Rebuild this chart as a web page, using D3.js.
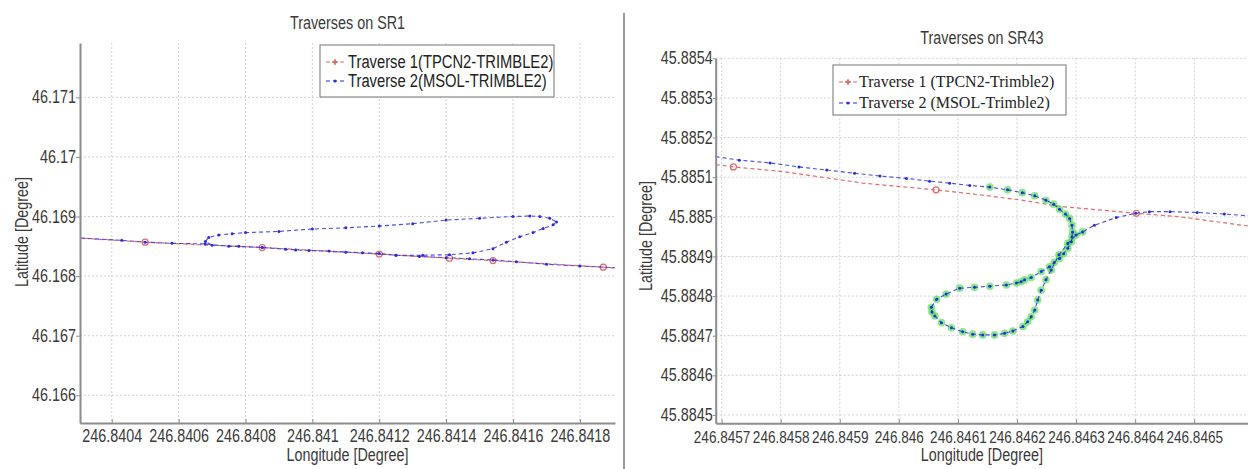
<!DOCTYPE html>
<html><head><meta charset="utf-8">
<script src="https://cdn.jsdelivr.net/npm/d3@7"></script>
<style>
body{margin:0;background:#fff;}
svg{display:block;}
.tick text{font-family:"Liberation Sans",Arial,sans-serif;font-size:17.5px;fill:#3a3a3a;}
.lbl{font-family:"Liberation Sans",Arial,sans-serif;font-size:17.5px;fill:#3a3a3a;}
</style></head><body>
<svg id="chart" width="1248" height="469"></svg>
<script>
// ---------- SR1 panel data ----------
const sr1Title = "Traverses on SR1";
const sr1XTicks = [246.8404, 246.8406, 246.8408, 246.8410, 246.8412, 246.8414, 246.8416, 246.8418];
const sr1XTickLabels = ["246.8404","246.8406","246.8408","246.841","246.8412","246.8414","246.8416","246.8418"];
const sr1YTicks = [46.166, 46.167, 46.168, 46.169, 46.170, 46.171];
const sr1YTickLabels = ["46.166","46.167","46.168","46.169","46.17","46.171"];
const sr1Legend = ["Traverse 1(TPCN2-TRIMBLE2)", "Traverse 2(MSOL-TRIMBLE2)"];
const sr1RedLon = [246.84030, 246.84050, 246.84085, 246.84120, 246.84141, 246.84154, 246.84187, 246.84192];
const sr1RedLat = [46.16864, 46.16857, 46.16848, 46.16837, 46.16830, 46.16826, 46.16815, 46.16813];
const sr1BlueLon = [246.84191, 246.84180, 246.84170, 246.84161, 246.84154, 246.84147, 246.84140, 246.84132, 246.84125, 246.84120,
  246.84110, 246.84099, 246.84092, 246.84085, 246.84078, 246.84070, 246.84068, 246.84069, 246.84072, 246.84076,
  246.84080, 246.84090, 246.84100, 246.84110, 246.84120, 246.84130, 246.84140, 246.84150, 246.84160, 246.84165,
  246.84168, 246.84171, 246.84173, 246.84172, 246.84169, 246.84166, 246.84162, 246.84158, 246.84154, 246.84148,
  246.84141, 246.84133, 246.84125, 246.84115, 246.84105, 246.84095, 246.84085, 246.84075, 246.84068, 246.84058,
  246.84050, 246.84043, 246.84030];
const sr1BlueLat = [46.16814, 46.16817, 46.16820, 46.16824, 46.16827, 46.16829, 46.16831, 46.16833, 46.16835, 46.16838,
  46.16840, 46.16843, 46.16845, 46.16848, 46.16850, 46.16852, 46.16858, 46.16865, 46.16869, 46.16871,
  46.16873, 46.16875, 46.16879, 46.16881, 46.16884, 46.16888, 46.16894, 46.16897, 46.16900, 46.16901,
  46.16900, 46.16897, 46.16891, 46.16886, 46.16880, 46.16873, 46.16866, 46.16857, 46.16846, 46.16839,
  46.16836, 46.16835, 46.16835, 46.16839, 46.16842, 46.16844, 46.16848, 46.16850, 46.16854, 46.16855,
  46.16857, 46.16860, 46.16864];

// ---------- SR43 panel data ----------
const sr43Title = "Traverses on SR43";
const sr43XTicks = [246.8457, 246.8458, 246.8459, 246.8460, 246.8461, 246.8462, 246.8463, 246.8464, 246.8465];
const sr43XTickLabels = ["246.8457","246.8458","246.8459","246.846","246.8461","246.8462","246.8463","246.8464","246.8465"];
const sr43YTicks = [45.8845, 45.8846, 45.8847, 45.8848, 45.8849, 45.8850, 45.8851, 45.8852, 45.8853, 45.8854];
const sr43YTickLabels = ["45.8845","45.8846","45.8847","45.8848","45.8849","45.885","45.8851","45.8852","45.8853","45.8854"];
const sr43Legend = ["Traverse 1 (TPCN2-Trimble2)", "Traverse 2 (MSOL-Trimble2)"];
const sr43RedLon = [246.845690, 246.845720, 246.845804, 246.845939, 246.846063, 246.846140, 246.846208, 246.846275, 246.846342, 246.846402, 246.846476, 246.846595];
const sr43RedLat = [45.885132, 45.885126, 45.885114, 45.885085, 45.885068, 45.885055, 45.885042, 45.885026, 45.885017, 45.885009, 45.885000, 45.884976];
const sr43RedMarked = [1, 4, 9];
const sr43BlueLon = [246.845690, 246.845730, 246.845782, 246.845831, 246.845878, 246.845925, 246.845968, 246.846013, 246.846052, 246.846086,
  246.846120, 246.846154, 246.846184, 246.846209, 246.846230, 246.846249, 246.846262, 246.846272, 246.846282, 246.846289,
  246.846293, 246.846294, 246.846293, 246.846292, 246.846286, 246.846279, 246.846272, 246.846263, 246.846255, 246.846241,
  246.846224, 246.846213, 246.846207, 246.846199, 246.846182, 246.846154, 246.846128, 246.846103, 246.846080, 246.846064,
  246.846055, 246.846056, 246.846061, 246.846072, 246.846089, 246.846108, 246.846125, 246.846142, 246.846162, 246.846179,
  246.846193, 246.846210, 246.846218, 246.846224, 246.846230, 246.846235, 246.846241, 246.846249, 246.846258, 246.846271,
  246.846286, 246.846300, 246.846311, 246.846331, 246.846368, 246.846401, 246.846424, 246.846459, 246.846505, 246.846551,
  246.846595];
const sr43BlueLat = [45.885152, 45.885143, 45.885136, 45.885126, 45.885118, 45.885110, 45.885103, 45.885097, 45.885090, 45.885085,
  45.885079, 45.885075, 45.885068, 45.885061, 45.885053, 45.885042, 45.885032, 45.885019, 45.885007, 45.884996,
  45.884979, 45.884962, 45.884949, 45.884937, 45.884921, 45.884907, 45.884895, 45.884885, 45.884874, 45.884862,
  45.884847, 45.884841, 45.884836, 45.884833, 45.884828, 45.884825, 45.884822, 45.884820, 45.884805, 45.884792,
  45.884772, 45.884760, 45.884750, 45.884733, 45.884720, 45.884710, 45.884704, 45.884702, 45.884702, 45.884706,
  45.884712, 45.884723, 45.884735, 45.884748, 45.884765, 45.884790, 45.884815, 45.884841, 45.884866, 45.884904,
  45.884933, 45.884954, 45.884962, 45.884979, 45.884998, 45.885009, 45.885013, 45.885013, 45.885011, 45.885007,
  45.885002];
// indices of Traverse 2 fixes that are highlighted in green
const sr43GreenFrom = 11, sr43GreenTo = 62;

const FONT = '"Liberation Sans",Arial,sans-serif';
const NARROW = 0.82;
const RED = "#e06a6a", BLUE = "#2a2ae0", GREEN = "#55e055";
const svg = d3.select("#chart");

// separator between the two figures
svg.append("line").attr("x1", 624).attr("x2", 624).attr("y1", 13).attr("y2", 469)
  .attr("stroke", "#9a9a9a").attr("stroke-width", 2);

function drawPanel(cfg, id) {
  const g = svg.append("g");
  const x = d3.scaleLinear().domain(cfg.xDomain).range([cfg.left, cfg.right]);
  const y = d3.scaleLinear().domain(cfg.yDomain).range([cfg.bottom, cfg.top]);

  // grid
  g.selectAll(".vg").data(cfg.xTicks).join("line")
    .attr("x1", d => x(d)).attr("x2", d => x(d)).attr("y1", cfg.top).attr("y2", cfg.bottom)
    .attr("stroke", "#d0d0d0").attr("stroke-width", 1).attr("stroke-dasharray", "2,2");
  g.selectAll(".hg").data(cfg.yTicks).join("line")
    .attr("x1", cfg.left).attr("x2", cfg.right).attr("y1", d => y(d)).attr("y2", d => y(d))
    .attr("stroke", "#d0d0d0").attr("stroke-width", 1).attr("stroke-dasharray", "2,2");

  // clip
  svg.append("clipPath").attr("id", id).append("rect")
    .attr("x", cfg.left).attr("y", cfg.top).attr("width", cfg.right - cfg.left).attr("height", cfg.bottom - cfg.top);
  const plot = g.append("g").attr("clip-path", `url(#${id})`);

  const red = cfg.redLon.map((v, i) => [v, cfg.redLat[i]]);
  const blue = cfg.blueLon.map((v, i) => [v, cfg.blueLat[i]]);
  const line = d3.line().x(d => x(d[0])).y(d => y(d[1]));

  plot.append("path").datum(red).attr("d", line).attr("fill", "none")
    .attr("stroke", RED).attr("stroke-width", 1.2).attr("stroke-dasharray", "4,3");
  plot.selectAll(".rm").data(red.filter((d, i) => cfg.redMarked.includes(i))).join("circle")
    .attr("cx", d => x(d[0])).attr("cy", d => y(d[1])).attr("r", 3)
    .attr("fill", "none").attr("stroke", RED).attr("stroke-width", 1.2);

  if (cfg.greenFrom != null) {
    plot.selectAll(".gm").data(blue.slice(cfg.greenFrom, cfg.greenTo + 1)).join("circle")
      .attr("cx", d => x(d[0])).attr("cy", d => y(d[1])).attr("r", 3.8)
      .attr("fill", GREEN).attr("fill-opacity", 0.7);
  }
  plot.append("path").datum(blue).attr("d", line).attr("fill", "none")
    .attr("stroke", BLUE).attr("stroke-width", 1.1).attr("stroke-dasharray", "4,3").attr("stroke-opacity", 0.85);
  plot.selectAll(".bm").data(blue).join("circle")
    .attr("cx", d => x(d[0])).attr("cy", d => y(d[1])).attr("r", 1.5).attr("fill", BLUE);

  // axes
  const xa = g.append("g").attr("transform", `translate(0,${cfg.bottom})`)
    .call(d3.axisBottom(x).tickValues(cfg.xTicks).tickFormat((d, i) => cfg.xLabels[i])
      .tickSize(-4).tickSizeOuter(0).tickPadding(7));
  const ya = g.append("g").attr("transform", `translate(${cfg.left},0)`)
    .call(d3.axisLeft(y).tickValues(cfg.yTicks).tickFormat((d, i) => cfg.yLabels[i])
      .tickSize(cfg.yTick).tickSizeOuter(0).tickPadding(0));
  [xa, ya].forEach(a => {
    a.select(".domain").attr("stroke", "#8c8c8c").attr("stroke-width", 2);
    a.selectAll(".tick line").attr("stroke", "#8c8c8c");
  });
  // narrow tick labels via a horizontal scale about their anchor
  xa.selectAll(".tick text").style("font-size", cfg.xFont + "px")
    .attr("transform", `scale(${cfg.xSqueeze},1)`);
  ya.selectAll(".tick text")
    .attr("x", -cfg.yTick / NARROW).attr("transform", `scale(${NARROW},1)`);

  // titles / axis labels
  g.append("text").attr("class", "lbl narrow").attr("x", (cfg.left + cfg.right) / 2).attr("y", cfg.titleY)
    .attr("text-anchor", "middle").text(cfg.title);
  g.append("text").attr("class", "lbl narrow").attr("x", (cfg.left + cfg.right) / 2).attr("y", 461)
    .attr("text-anchor", "middle").text("Longitude [Degree]");
  g.append("text").attr("class", "lbl narrow").attr("transform", `translate(${cfg.yLabelX},${cfg.yLabelY}) rotate(-90)`)
    .attr("text-anchor", "middle").text("Latitude [Degree]");

  // legend
  const L = cfg.legend;
  const lg = g.append("g");
  lg.append("rect").attr("x", L.x).attr("y", L.y).attr("width", L.w).attr("height", L.h)
    .attr("fill", "#fff").attr("stroke", "#8a8a8a").attr("stroke-width", 1.2);
  [[RED, "r"], [BLUE, "b"]].forEach(([c, k], i) => {
    const yy = L.rowY[i];
    lg.append("line").attr("x1", L.sx).attr("x2", L.sx + 18).attr("y1", yy).attr("y2", yy)
      .attr("stroke", c).attr("stroke-width", 1.2).attr("stroke-dasharray", "4,3");
    if (k === "r") {
      lg.append("path").attr("d", d3.symbol(d3.symbolCross, 16)()).attr("transform", `translate(${L.sx + 9},${yy})`).attr("fill", c);
    } else {
      lg.append("circle").attr("cx", L.sx + 9).attr("cy", yy).attr("r", 1.5).attr("fill", c);
    }
    lg.append("text").attr("x", L.tx).attr("y", yy + L.dy).classed("narrow", L.narrow)
      .style("font-family", L.font).style("font-size", L.size + "px").attr("fill", "#222")
      .text(L.labels[i]);
  });
}

drawPanel({
  xDomain: [246.840305, 246.841905], yDomain: [46.165535, 46.171912],
  left: 80, right: 615, top: 43, bottom: 423, yTick: 4, xSqueeze: NARROW, xFont: 17.5,
  xTicks: sr1XTicks, xLabels: sr1XTickLabels, yTicks: sr1YTicks, yLabels: sr1YTickLabels,
  redLon: sr1RedLon, redLat: sr1RedLat, redMarked: [1, 2, 3, 4, 5, 6],
  blueLon: sr1BlueLon, blueLat: sr1BlueLat,
  title: sr1Title, titleY: 29, yLabelX: 28, yLabelY: 232,
  legend: { x: 320, y: 45, w: 234, h: 52, sx: 326, tx: 348, rowY: [62, 81], dy: 6,
    font: FONT, size: 18, narrow: true, labels: sr1Legend }
}, "clip1");

drawPanel({
  xDomain: [246.84569, 246.846591], yDomain: [45.884479, 45.8854],
  left: 715.7, right: 1248, top: 58.3, bottom: 423.3, yTick: 3, xSqueeze: 0.79, xFont: 17.2,
  xTicks: sr43XTicks, xLabels: sr43XTickLabels, yTicks: sr43YTicks, yLabels: sr43YTickLabels,
  redLon: sr43RedLon, redLat: sr43RedLat, redMarked: sr43RedMarked,
  blueLon: sr43BlueLon, blueLat: sr43BlueLat, greenFrom: sr43GreenFrom, greenTo: sr43GreenTo,
  title: sr43Title, titleY: 44, yLabelX: 652, yLabelY: 236,
  legend: { x: 833, y: 65, w: 233, h: 50, sx: 839, tx: 859, rowY: [82, 103], dy: 5,
    font: '"Liberation Serif","Times New Roman",serif', size: 16, narrow: false, labels: sr43Legend }
}, "clip2");

// condense the remaining sans-serif texts (the figure uses a narrow face)
svg.selectAll("text.narrow").each(function () {
  const len = this.getComputedTextLength();
  d3.select(this).attr("textLength", (len * NARROW).toFixed(2)).attr("lengthAdjust", "spacingAndGlyphs");
});
</script>
</body></html>
